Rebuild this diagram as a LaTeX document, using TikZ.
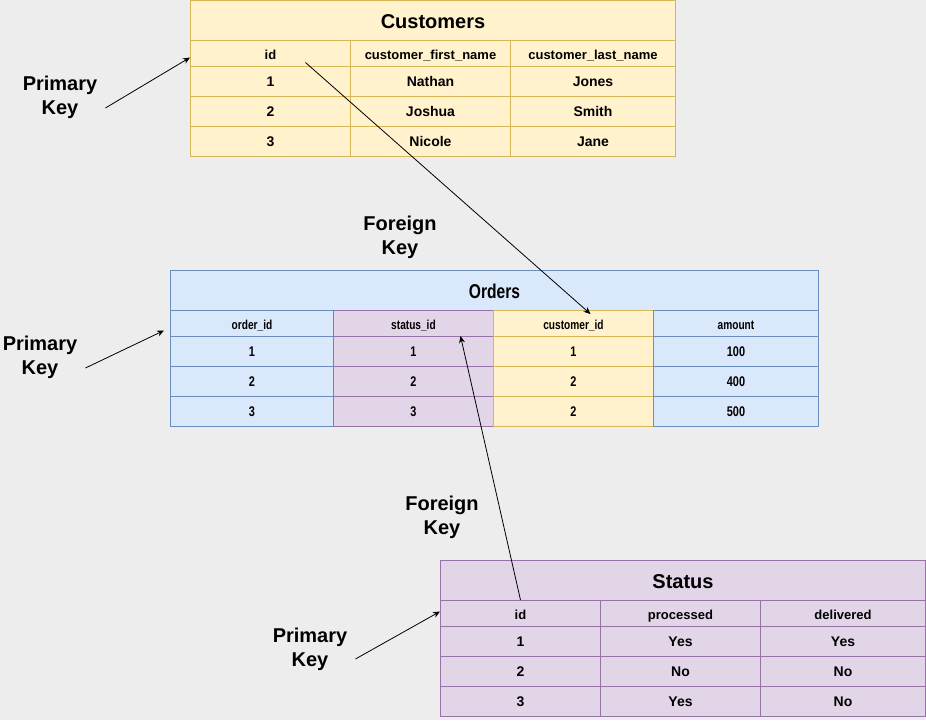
\documentclass[tikz,border=0pt]{standalone}
\usepackage{fontspec}
\setmainfont{Liberation Sans}
\newfontfamily\narrowsans[FakeStretch=0.78]{Liberation Sans}
\usetikzlibrary{arrows.meta}

\definecolor{bg}{HTML}{EDEDED}
\definecolor{yfill}{HTML}{FFF2CC}
\definecolor{yline}{HTML}{D6B656}
\definecolor{bfill}{HTML}{DAE8FC}
\definecolor{bline}{HTML}{6C8EBF}
\definecolor{pfill}{HTML}{E1D5E7}
\definecolor{pline}{HTML}{9673A6}

\begin{document}
\begin{tikzpicture}[x=1pt, y=-1pt,
  tabtitle/.style={draw, anchor=north west, inner sep=0pt, line width=1pt, minimum height=40pt,
    text height=16pt, text depth=0pt, font=#1\fontsize{20}{24}\selectfont\bfseries},
  tabtitle/.default={},
  tabhead/.style={draw, anchor=north west, inner sep=0pt, line width=1pt, minimum height=26pt,
    text height=11pt, text depth=0pt, font=#1\fontsize{13}{15}\selectfont\bfseries},
  tabhead/.default={},
  tabcell/.style={draw, anchor=north west, inner sep=0pt, line width=1pt, minimum height=30pt,
    text height=9pt, text depth=0pt, font=#1\fontsize{14}{16}\selectfont\bfseries},
  tabcell/.default={},
  keylabel/.style={align=center, inner sep=0pt, font=\fontsize{20}{24}\selectfont\bfseries},
  keyarrow/.style={-{Stealth[length=7pt,width=6pt]}, line width=0.8pt}]

  % Background
  \fill[bg] (0,0) rectangle (926,720);
  \useasboundingbox (0,0) rectangle (926,720);

  % Table Customers
  \node[tabtitle, fill=yfill, draw=yline, minimum width=485pt] (cust) at (190,0) {Customers};
  \foreach \n/\x/\w/\h/\a/\b/\c in {id/190/160/id/1/2/3,
      first/350/160/customer\_first\_name/Nathan/Joshua/Nicole,
      last/510/165/customer\_last\_name/Jones/Smith/Jane} {
    \node[tabhead, fill=yfill, draw=yline, minimum width=\w pt] (cust-\n) at (\x,40) {\h};
    \node[tabcell, fill=yfill, draw=yline, minimum width=\w pt] (cust-\n-1) at (\x,66) {\a};
    \node[tabcell, fill=yfill, draw=yline, minimum width=\w pt] (cust-\n-2) at (\x,96) {\b};
    \node[tabcell, fill=yfill, draw=yline, minimum width=\w pt] (cust-\n-3) at (\x,126) {\c};
  }

  % Table Orders
  \node[tabtitle=\narrowsans, fill=bfill, draw=bline, minimum width=648pt] (ord) at (170,270) {Orders};
  \foreach \n/\x/\w/\f/\d/\h/\a/\b/\c in {id/170/163/bfill/bline/order\_id/1/2/3,
      stat/333/160/pfill/pline/status\_id/1/2/3,
      cust/493/160/yfill/yline/customer\_id/1/2/2,
      amt/653/165/bfill/bline/amount/100/400/500} {
    \node[tabhead=\narrowsans, fill=\f, draw=\d, minimum width=\w pt] (ord-\n) at (\x,310) {\h};
    \node[tabcell=\narrowsans, fill=\f, draw=\d, minimum width=\w pt] (ord-\n-1) at (\x,336) {\a};
    \node[tabcell=\narrowsans, fill=\f, draw=\d, minimum width=\w pt] (ord-\n-2) at (\x,366) {\b};
    \node[tabcell=\narrowsans, fill=\f, draw=\d, minimum width=\w pt] (ord-\n-3) at (\x,396) {\c};
  }

  % Table Status
  \node[tabtitle, fill=pfill, draw=pline, minimum width=485pt] (stat) at (440,560) {Status};
  \foreach \n/\x/\w/\h/\a/\b/\c in {id/440/160/id/1/2/3,
      proc/600/160/processed/Yes/No/Yes,
      deliv/760/165/delivered/Yes/No/No} {
    \node[tabhead, fill=pfill, draw=pline, minimum width=\w pt] (stat-\n) at (\x,600) {\h};
    \node[tabcell, fill=pfill, draw=pline, minimum width=\w pt] (stat-\n-1) at (\x,626) {\a};
    \node[tabcell, fill=pfill, draw=pline, minimum width=\w pt] (stat-\n-2) at (\x,656) {\b};
    \node[tabcell, fill=pfill, draw=pline, minimum width=\w pt] (stat-\n-3) at (\x,686) {\c};
  }

  % Key labels
  \node[keylabel] (pk-cust) at (60,97) {Primary\\Key};
  \node[keylabel] (pk-ord) at (40,357) {Primary\\Key};
  \node[keylabel] (pk-stat) at (310,649) {Primary\\Key};
  \node[keylabel] (fk-cust) at (400,237) {Foreign\\Key};
  \node[keylabel] (fk-stat) at (442,517) {Foreign\\Key};

  % Primary key arrows
  \draw[keyarrow] ([shift={(8,11)}]pk-cust.east) -- ([yshift=-4pt]cust-id.west);
  \draw[keyarrow] ([shift={(8,11)}]pk-ord.east) -- ([shift={(-6,7)}]ord-id.west);
  \draw[keyarrow] ([shift={(8,10)}]pk-stat.east) -- ([yshift=2pt]stat-id.west);

  % Foreign key arrows
  \draw[keyarrow] ([shift={(35,9)}]cust-id.center) -- ([shift={(17,4)}]ord-cust.north);
  \draw[keyarrow] (stat-id.north) -- ([shift={(47,-1)}]ord-stat.south);
\end{tikzpicture}
\end{document}
